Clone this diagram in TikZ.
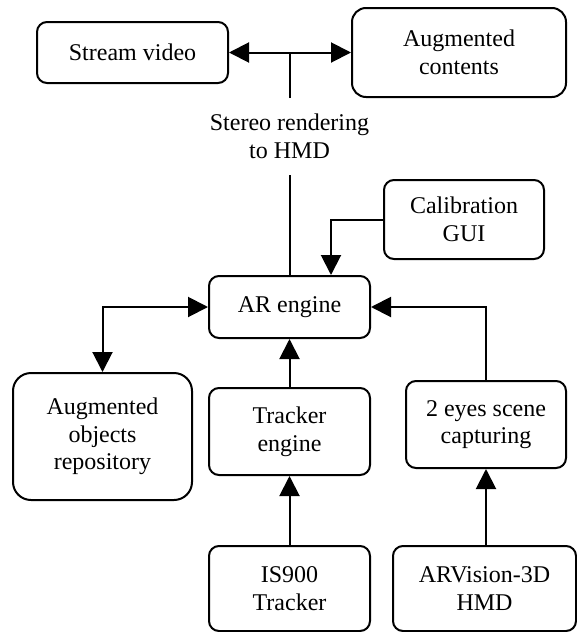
\documentclass[tikz,border=0pt]{standalone}
\usepackage{fontspec}
\setmainfont{Liberation Serif}
\usetikzlibrary{arrows.meta}
\begin{document}
\begin{tikzpicture}[x=0.5pt,y=-0.5pt,line width=1pt,>={Triangle[length=10pt,width=10pt]},
  blk/.style={draw,rounded corners=5pt,align=center,inner sep=0pt},
  every node/.append style={font=\fontsize{12}{13.8}\selectfont}]
\useasboundingbox (0,0) rectangle (577,632);
% top row
\node[blk,minimum width=95.5pt,minimum height=30.5pt] (stream) at (132.5,52.5) {Stream video};
\node[blk,minimum width=107pt,minimum height=44.5pt,rounded corners=7pt] (contents) at (459,52.5) {Augmented\\contents};
\coordinate (split) at (289.5,52.5);
\node[align=center,inner sep=0pt,minimum height=37.5pt] (stereo) at (289.5,136.5) {Stereo rendering\\to HMD};
% middle
\node[blk,minimum width=80pt,minimum height=39.5pt] (calib) at (464,219.5) {Calibration\\GUI};
\node[blk,minimum width=80.5pt,minimum height=31pt] (ar) at (289.5,307) {AR engine};
% lower row
\node[blk,minimum width=89.5pt,minimum height=63.5pt,rounded corners=9pt] (repo) at (102.5,436.5) {Augmented\\objects\\repository};
\node[blk,minimum width=80.5pt,minimum height=43.5pt] (tracker) at (289.5,431.5) {Tracker\\engine};
\node[blk,minimum width=80pt,minimum height=43.5pt] (eyes) at (486,424.5) {2 eyes scene\\capturing};
% devices
\node[blk,minimum width=80.5pt,minimum height=42.5pt] (is900) at (289.5,588.5) {IS900\\Tracker};
\node[blk,minimum width=91.5pt,minimum height=42.5pt] (hmd) at (484.5,588.5) {ARVision-3D\\HMD};

\draw[->] (split) -- (stream.east);
\draw[->] (split) -- (contents.west);
\draw (stereo.north) -- (split);
\draw (ar.north) -- (stereo.south);
\draw[->] (calib.west) -| ([xshift=20.75pt]ar.north);
\draw[<->] (ar.west) -| (repo.north);
\draw[->] (eyes.north) |- (ar.east);
\draw[->] (tracker) -- (ar);
\draw[->] (is900) -- (tracker);
\draw[->] (eyes.south |- hmd.north) -- (eyes.south);
\end{tikzpicture}
\end{document}
